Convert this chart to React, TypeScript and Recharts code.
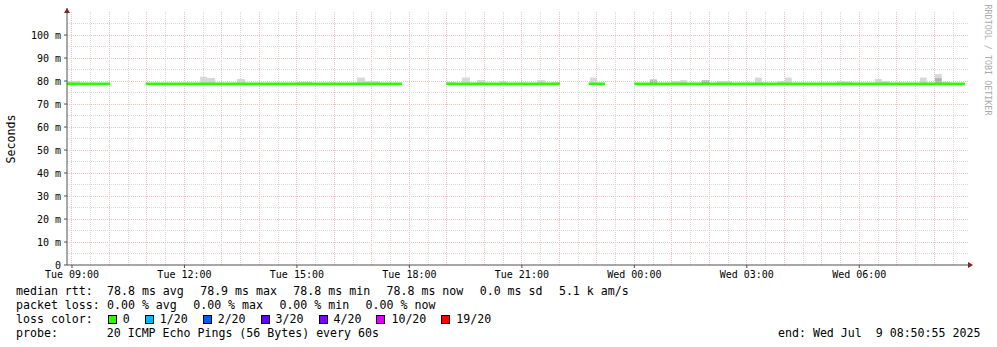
import { ComposedChart, Line, XAxis, YAxis, ReferenceLine, ReferenceArea } from "recharts";

// all times are minutes after Tue 00:00
const startMin = 532; // Tue 08:52
const endMin = 1974; // Wed 08:54

const xTicks = [540, 720, 900, 1080, 1260, 1440, 1620, 1800];
const xTickLabels = [
  "Tue 09:00",
  "Tue 12:00",
  "Tue 15:00",
  "Tue 18:00",
  "Tue 21:00",
  "Wed 00:00",
  "Wed 03:00",
  "Wed 06:00",
];

const yTicks = [0, 10, 20, 30, 40, 50, 60, 70, 80, 90, 100];
const yTickLabels = ["0", "10 m", "20 m", "30 m", "40 m", "50 m", "60 m", "70 m", "80 m", "90 m", "100 m"];

// median rtt, in ms, for each stretch of data (the blanks are gaps)
const segStart = [532, 658, 1139, 1367, 1440];
const segEnd = [601, 1068, 1321, 1393, 1969];
const segMedian = [78.8, 78.8, 78.8, 78.8, 78.8];

// smoke: spread of the 20 pings
const smokeLow = 78.6;
const smokeFrom = [532, 745, 756, 804, 900, 996, 1009, 1140, 1164, 1188, 1225, 1284, 1308, 1369, 1465, 1500, 1513, 1548, 1572, 1633, 1668, 1681, 1764, 1777, 1825, 1836, 1897, 1921, 1932];
const smokeTo = [553, 756, 769, 817, 924, 1009, 1033, 1153, 1177, 1201, 1236, 1297, 1321, 1380, 1476, 1513, 1524, 1561, 1596, 1644, 1681, 1692, 1777, 1788, 1836, 1849, 1908, 1932, 1945];
const smokeTop = [80.0, 81.9, 81.3, 80.9, 79.7, 81.5, 80.0, 79.6, 81.5, 80.4, 80.0, 80.4, 79.6, 81.5, 80.9, 80.0, 80.4, 80.4, 80.0, 81.5, 80.0, 81.5, 80.0, 79.7, 80.9, 80.0, 81.5, 83.0, 79.7];

// denser part of the smoke
const coreFrom = [1465, 1548, 1921];
const coreTo = [1476, 1561, 1932];
const coreTop = [80.3, 80.2, 81.2];

const rttStats = ["78.8 ms avg", "78.9 ms max", "78.8 ms min", "78.8 ms now", "0.0 ms sd", "5.1 k am/s"];
const lossStats = ["0.00 % avg", "0.00 % max", "0.00 % min", "0.00 % now"];
const lossLabels = ["0", "1/20", "2/20", "3/20", "4/20", "10/20", "19/20"];
const lossColors = ["#26ff00", "#00b8ff", "#0059ff", "#5e00ff", "#7e00ff", "#dd00ff", "#ff0000"];

const lineData = segStart.flatMap((s, i) => [
  { t: s, rtt: segMedian[i] },
  { t: segEnd[i], rtt: segMedian[i] },
  { t: segEnd[i] + 1, rtt: null },
]);

const minorX = Array.from({ length: 48 }, (_, i) => 540 + i * 30).filter((t) => t % 60 !== 0 && t < endMin);
const majorX = Array.from({ length: 24 }, (_, i) => 540 + i * 60).filter((t) => t < endMin);
const minorY = [5, 15, 25, 35, 45, 55, 65, 75, 85, 95, 105];
const majorY = yTicks.slice(1);

const mono = "'DejaVu Sans Mono', monospace";
const axisColor = "#505050";
const minorGrid = "#d8d8d8";
const majorGrid = "#eec0c0";

const StatRow = ({ head, items }: { head: string; items: string[] }) => (
  <div style={{ display: "flex", height: 14 }}>
    <span style={{ width: 91 }}>{head}</span>
    {items.map((s, i) => (
      <span key={i} style={{ marginRight: 16.4 }}>
        {s}
      </span>
    ))}
  </div>
);

export default function App() {
  return (
    <div
      style={{
        position: "fixed",
        left: 0,
        top: 0,
        width: 997,
        height: 347,
        background: "#fff",
        fontFamily: mono,
        color: "#000",
      }}
    >
      <ComposedChart width={997} height={347} data={lineData} margin={{ top: 12, right: 29, bottom: 52, left: 7 }}>
        <XAxis
          type="number"
          dataKey="t"
          domain={[startMin, endMin]}
          allowDataOverflow
          ticks={xTicks}
          tickFormatter={(v: number) => xTickLabels[xTicks.indexOf(v)] ?? ""}
          height={30}
          tickSize={3}
          tickMargin={3}
          stroke={axisColor}
          tick={{ fontSize: 10, fill: "#000", fontFamily: mono }}
        />
        <YAxis
          type="number"
          domain={[0, 110]}
          allowDataOverflow
          ticks={yTicks}
          tickFormatter={(v: number) => yTickLabels[yTicks.indexOf(v)] ?? ""}
          width={60}
          tickSize={3}
          tickMargin={3}
          stroke={axisColor}
          tick={{ fontSize: 10, fill: "#000", fontFamily: mono }}
        />
        {minorY.map((v) => (
          <ReferenceLine key={"my" + v} y={v} stroke={minorGrid} strokeDasharray="1 1" shapeRendering="crispEdges" />
        ))}
        {minorX.map((v) => (
          <ReferenceLine key={"mx" + v} x={v} stroke={minorGrid} strokeDasharray="1 1" shapeRendering="crispEdges" />
        ))}
        {majorY.map((v) => (
          <ReferenceLine key={"My" + v} y={v} stroke={majorGrid} strokeDasharray="1 1" shapeRendering="crispEdges" />
        ))}
        {majorX.map((v) => (
          <ReferenceLine key={"Mx" + v} x={v} stroke={majorGrid} strokeDasharray="1 1" shapeRendering="crispEdges" />
        ))}
        {smokeFrom.map((s, i) => (
          <ReferenceArea
            key={"s" + i}
            x1={s}
            x2={smokeTo[i]}
            y1={smokeLow}
            y2={smokeTop[i]}
            fill="#d8d8d8"
            fillOpacity={1}
            stroke="none"
          />
        ))}
        {coreFrom.map((s, i) => (
          <ReferenceArea
            key={"c" + i}
            x1={s}
            x2={coreTo[i]}
            y1={smokeLow}
            y2={coreTop[i]}
            fill="#b0b0b0"
            fillOpacity={1}
            stroke="none"
          />
        ))}
        <Line
          dataKey="rtt"
          type="linear"
          stroke="#26ff00"
          strokeWidth={2.3}
          dot={false}
          connectNulls={false}
          isAnimationActive={false}
        />
      </ComposedChart>

      <svg width={997} height={347} style={{ position: "absolute", left: 0, top: 0, pointerEvents: "none" }}>
        <polygon points="64,13 70,13 67,8" fill="#8b1a1a" />
        <polygon points="968,262 968,268 973,265" fill="#8b1a1a" />
        <line x1={67} y1={8} x2={67} y2={12} stroke={axisColor} />
        <line x1={968} y1={265} x2={970} y2={265} stroke={axisColor} />
        <text
          x={11}
          y={139}
          transform="rotate(-90 11 139)"
          textAnchor="middle"
          dominantBaseline="central"
          fontSize={11.6}
          fontFamily={mono}
        >
          Seconds
        </text>
        <text
          x={988}
          y={60}
          transform="rotate(90 988 60)"
          textAnchor="middle"
          dominantBaseline="central"
          fontSize={8.4}
          fontFamily={mono}
          fill="#aaa"
        >
          RRDTOOL / TOBI OETIKER
        </text>
      </svg>

      <div
        style={{
          position: "absolute",
          left: 16,
          top: 284,
          fontSize: 11.6,
          lineHeight: "14px",
          whiteSpace: "pre",
        }}
      >
        <StatRow head="median rtt:" items={rttStats} />
        <StatRow head="packet loss:" items={lossStats} />
        <div style={{ display: "flex", alignItems: "center", height: 14 }}>
          <span>{"loss color:  "}</span>
          {lossLabels.map((l, i) => (
            <span key={l} style={{ display: "flex", alignItems: "center", marginLeft: i === 0 ? 1 : 0 }}>
              <span
                style={{
                  display: "inline-block",
                  width: 7,
                  height: 7,
                  border: "1px solid #000",
                  background: lossColors[i],
                  marginRight: 6,
                }}
              />
              <span style={{ marginRight: 15 }}>{l}</span>
            </span>
          ))}
        </div>
        <div>{"probe:       20 ICMP Echo Pings (56 Bytes) every 60s"}</div>
      </div>
      <div
        style={{
          position: "absolute",
          left: 778,
          top: 326,
          fontSize: 11.6,
          lineHeight: "14px",
          whiteSpace: "pre",
        }}
      >
        {"end: Wed Jul  9 08:50:55 2025"}
      </div>
    </div>
  );
}
